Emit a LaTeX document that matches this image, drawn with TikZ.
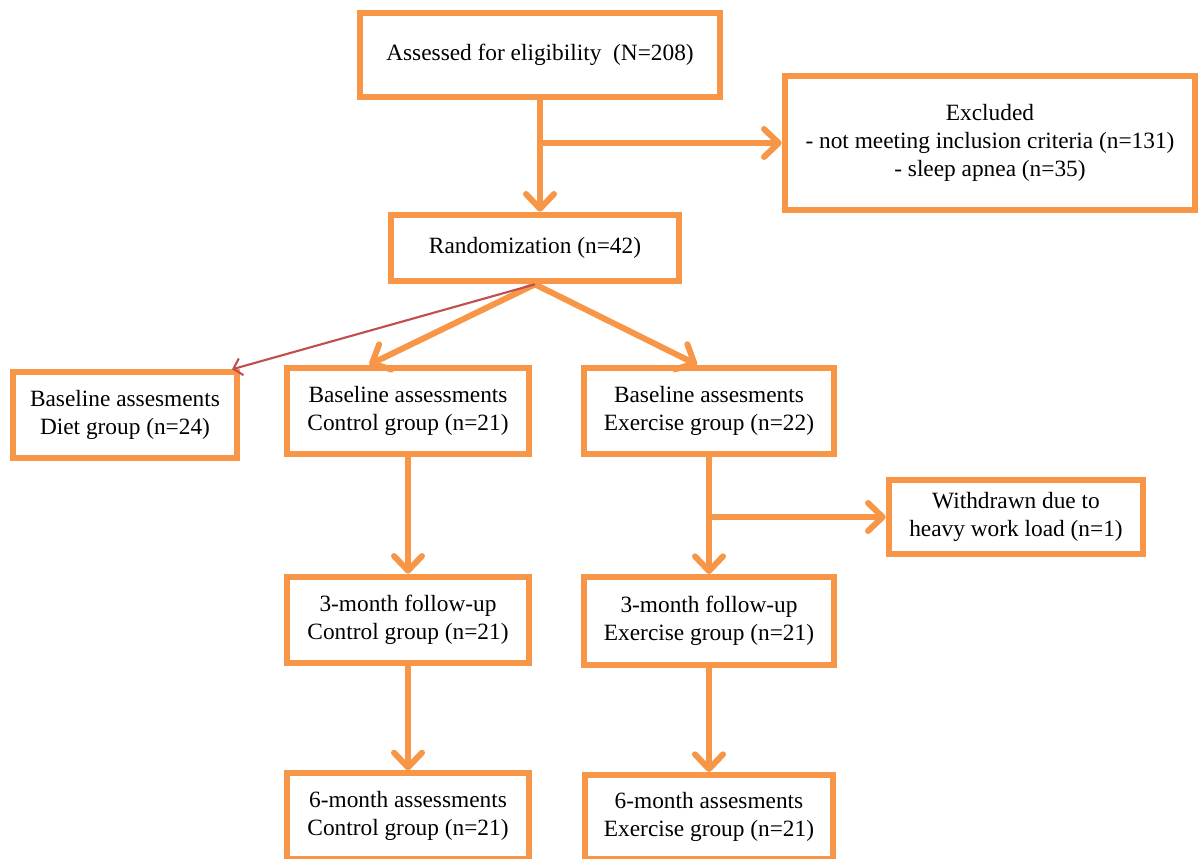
\documentclass[tikz,border=0pt]{standalone}
\usepackage{fontspec}
\setmainfont{Liberation Serif}
\usetikzlibrary{arrows.meta}
\definecolor{boxorange}{HTML}{F79646}
\definecolor{linkred}{HTML}{C0504D}
\tikzset{
	flowbox/.style={rectangle, draw=boxorange, line width=4.5pt, align=center, inner sep=0pt, font=\fontsize{17.5}{21}\selectfont},
	flowline/.style={draw=boxorange, line width=4.5pt, line cap=round},
	flowarrow/.style={flowline, -{Straight Barb[length=11pt,width=21pt,round]}},
	thinarrow/.style={draw=linkred, line width=1.6pt, -{Straight Barb[length=6pt,width=13pt]}}
}
\begin{document}
\begin{tikzpicture}[x=0.75pt,y=-0.75pt]
	\useasboundingbox (0,0) rectangle (1198,859);
	\node[flowbox, minimum width=270pt, minimum height=63pt] (assess) at (540,55) {Assessed for eligibility~~(N=208)};
	\node[flowbox, minimum width=308pt, minimum height=101pt] (excl) at (990,143) {Excluded\\- not meeting inclusion criteria (n=131)\\- sleep apnea (n=35)};
	\node[flowbox, minimum width=216pt, minimum height=50pt] (rand) at (535,248) {Randomization (n=42)};
	
	\node[flowbox, minimum width=168pt, minimum height=64pt] (diet) at (125,415) {Baseline assesments\\Diet group (n=24)};
	\node[flowbox, minimum width=181pt, minimum height=65pt] (ctrlbase) at (408,411) {Baseline assessments\\Control group (n=21)};
	\node[flowbox, minimum width=188pt, minimum height=65pt] (exbase) at (709,411) {Baseline assesments\\Exercise group (n=22)};
	\node[flowbox, minimum width=191pt, minimum height=56pt] (wdraw) at (1016,517) {Withdrawn due to\\heavy work load (n=1)};
	
	\node[flowbox, minimum width=182pt, minimum height=65pt] (ctrlthree) at (408,620) {3-month follow-up\\Control group (n=21)};
	\node[flowbox, minimum width=188pt, minimum height=66pt] (exthree) at (709,621) {3-month follow-up\\Exercise group (n=21)};
	\node[flowbox, minimum width=182pt, minimum height=64pt] (ctrlsix) at (408,816) {6-month assessments\\Control group (n=21)};
	\node[flowbox, minimum width=186pt, minimum height=63pt] (exsix) at (709,817) {6-month assesments\\Exercise group (n=21)};
	
	% arrows
	\draw[flowarrow] (assess.south) -- (assess.south |- rand.north);
	\draw[flowarrow] (assess.south |- excl.west) -- (excl.west);
	\draw[flowarrow] (rand.south) -- ([xshift=-29pt]ctrlbase.north);
	\draw[flowarrow] (rand.south) -- ([xshift=-9pt]exbase.north);
	\draw[thinarrow] (rand.south) -- ([xshift=-6pt]diet.north east);
	\draw[flowarrow] (ctrlbase.south) -- (ctrlthree.north);
	\draw[flowarrow] (exbase.south) -- (exthree.north);
	\draw[flowarrow] (exbase.south |- wdraw.west) -- (wdraw.west);
	\draw[flowarrow] (ctrlthree.south) -- (ctrlsix.north);
	\draw[flowarrow] (exthree.south) -- (exsix.north);
\end{tikzpicture}
\end{document}
